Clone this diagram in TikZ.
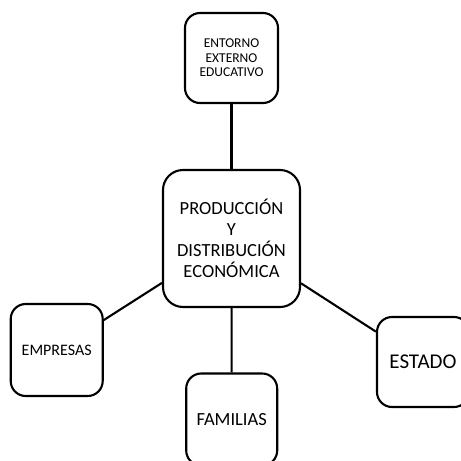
\documentclass[tikz,border=0pt]{standalone}
\usepackage{fontspec}
\setmainfont{Carlito}
\begin{document}
\begin{tikzpicture}[x=1pt,y=-1pt,
  box/.style={draw=black, line width=2.1pt, rounded corners=15pt, fill=white, align=center, inner sep=0pt},
  link/.style={draw=black, line width=2.1pt}]
\useasboundingbox (0,0) rectangle (461,461);
\node[box, minimum width=93pt, minimum height=90pt, font=\fontsize{13.5}{14.5}\selectfont] (top) at (231.5,58) {ENTORNO\\EXTERNO\\EDUCATIVO};
\node[box, minimum width=137pt, minimum height=137pt, rounded corners=20pt, font=\fontsize{18.5}{21}\selectfont] (mid) at (231.5,238.5) {PRODUCCIÓN\\Y\\DISTRIBUCIÓN\\ECONÓMICA};
\node[box, minimum width=92pt, minimum height=92pt, font=\fontsize{16}{18}\selectfont] (emp) at (56.7,350) {EMPRESAS};
\node[box, minimum width=91pt, minimum height=92pt, font=\fontsize{18.5}{21}\selectfont] (fam) at (231.7,419.5) {FAMILIAS};
\node[box, minimum width=92pt, minimum height=90pt, font=\fontsize{21}{25}\selectfont] (est) at (423,362) {ESTADO};
\draw[link] (top) -- (mid);
\draw[link] (mid) -- (fam);
\draw[link] (mid) -- (emp);
\draw[link] (mid) -- (est);
\end{tikzpicture}
\end{document}
